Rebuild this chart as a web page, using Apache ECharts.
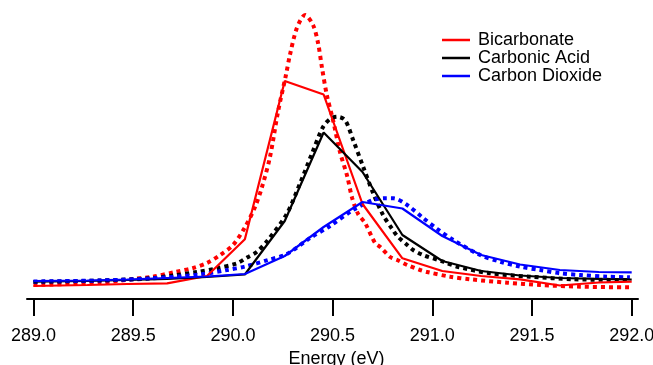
<!DOCTYPE html>
<html>
<head>
<meta charset="utf-8">
<script src="https://cdn.jsdelivr.net/npm/echarts@6/dist/echarts.min.js"></script>
<style>html,body{margin:0;padding:0;background:#fff}#c{width:653px;height:365px}</style>
</head>
<body>
<div id="c"></div>
<script>
// Measured spectra (solid lines)
const energyMeas = [289.0, 289.27, 289.47, 289.67, 289.87, 290.06, 290.26, 290.455, 290.65, 290.85, 291.05, 291.245, 291.44, 291.64, 291.835, 292.0];
const bicarbonateMeas = [0.13, 0.14, 0.15, 0.157, 0.23, 0.597, 2.18, 2.045, 0.95, 0.407, 0.28, 0.23, 0.197, 0.135, 0.165, 0.173];
const carbonicMeas = [0.173, 0.18, 0.19, 0.2, 0.22, 0.245, 0.78, 1.665, 1.27, 0.64, 0.38, 0.28, 0.235, 0.21, 0.2, 0.195];
const co2Meas = [0.18, 0.185, 0.195, 0.21, 0.225, 0.25, 0.43, 0.72, 0.97, 0.905, 0.63, 0.44, 0.345, 0.29, 0.27, 0.267];

// Fitted / computed curves (dotted lines)
const bicarbFitE = [289.0, 289.334, 289.499, 289.60, 289.71, 289.80, 289.87, 289.936, 290.001, 290.061, 290.111, 290.146, 290.186, 290.226, 290.266, 290.286, 290.321, 290.362, 290.402, 290.427, 290.447, 290.471, 290.502, 290.537, 290.573, 290.598, 290.628, 290.663, 290.713, 290.739, 290.789, 290.824, 290.874, 290.939, 290.974, 291.09, 291.19, 291.376, 291.541, 291.742, 291.991];
const bicarbFitI = [0.14, 0.163, 0.20, 0.223, 0.27, 0.31, 0.36, 0.44, 0.54, 0.72, 0.92, 1.12, 1.42, 1.87, 2.24, 2.44, 2.71, 2.84, 2.74, 2.56, 2.31, 2.04, 1.79, 1.47, 1.23, 1.01, 0.85, 0.76, 0.56, 0.52, 0.42, 0.39, 0.34, 0.29, 0.27, 0.223, 0.197, 0.163, 0.14, 0.123, 0.117];

const carbonicFitE = [289.0, 289.334, 289.585, 289.70, 289.82, 289.92, 290.021, 290.071, 290.121, 290.172, 290.267, 290.337, 290.397, 290.452, 290.487, 290.522, 290.562, 290.603, 290.653, 290.703, 290.753, 290.799, 290.824, 290.874, 290.904, 290.954, 291.055, 291.125, 291.29, 291.491, 291.707, 291.991];
const carbonicFitI = [0.17, 0.185, 0.207, 0.235, 0.27, 0.307, 0.357, 0.415, 0.473, 0.58, 0.84, 1.157, 1.457, 1.72, 1.80, 1.823, 1.79, 1.59, 1.323, 1.06, 0.84, 0.70, 0.63, 0.54, 0.49, 0.44, 0.373, 0.323, 0.257, 0.223, 0.197, 0.19];

const co2FitE = [289.0, 289.334, 289.585, 289.835, 289.971, 290.061, 290.176, 290.271, 290.387, 290.487, 290.603, 290.703, 290.765, 290.805, 290.874, 290.954, 291.025, 291.105, 291.24, 291.341, 291.441, 291.541, 291.642, 291.742, 291.876, 291.991];
const co2FitI = [0.175, 0.185, 0.205, 0.245, 0.29, 0.325, 0.39, 0.45, 0.61, 0.73, 0.89, 0.99, 1.007, 1.007, 0.94, 0.81, 0.70, 0.59, 0.44, 0.373, 0.323, 0.29, 0.257, 0.24, 0.223, 0.217];

const tickValues = [289.0, 289.5, 290.0, 290.5, 291.0, 291.5, 292.0];
const seriesNames = ['Bicarbonate', 'Carbonic Acid', 'Carbon Dioxide'];
const seriesColors = ['#ff0000', '#000000', '#0000ff'];

const zip = (xs, ys) => xs.map((x, i) => [x, ys[i]]);
const FONT = 'Liberation Sans, Arial, Helvetica, sans-serif';

const fits = [[bicarbFitE, bicarbFitI], [carbonicFitE, carbonicFitI], [co2FitE, co2FitI]];
const meas = [bicarbonateMeas, carbonicMeas, co2Meas];

const series = [];
fits.forEach((f, i) => {
  series.push({
    name: seriesNames[i] + ' fit', type: 'line', data: zip(f[0], f[1]),
    symbol: 'none', smooth: 0.3, silent: true,
    lineStyle: { color: seriesColors[i], width: 4, type: [4, 4], cap: 'butt' },
    itemStyle: { color: seriesColors[i] }, z: 2
  });
});
meas.forEach((m, i) => {
  series.push({
    name: seriesNames[i], type: 'line', data: zip(energyMeas, m),
    symbol: 'none', silent: true,
    lineStyle: { color: seriesColors[i], width: 2.2 },
    itemStyle: { color: seriesColors[i] }, z: 3
  });
});

const chart = echarts.init(document.getElementById('c'), null, { renderer: 'canvas' });
chart.setOption({
  animation: false,
  backgroundColor: '#ffffff',
  grid: { left: 27, right: 15, top: 9, bottom: 66, containLabel: false, outerBoundsMode: 'none' },
  legend: {
    data: seriesNames, orient: 'vertical', left: 437, top: 26,
    itemWidth: 28, itemHeight: 2.5, itemGap: 0, icon: 'rect',
    textStyle: { fontFamily: FONT, fontSize: 18, color: '#000', lineHeight: 18, padding: [0, 0, 0, 3] }
  },
  xAxis: {
    type: 'value', min: 288.9674, max: 292.0316,
    name: 'Energy (eV)', nameLocation: 'middle', nameGap: 47,
    nameTextStyle: { fontFamily: FONT, fontSize: 18, color: '#000', padding: [0, 0, 0, 8] },
    axisLine: { show: true, lineStyle: { color: '#000', width: 2 } },
    axisTick: { show: true, inside: false, length: 17, customValues: tickValues, lineStyle: { color: '#000', width: 2 } },
    axisLabel: { show: true, margin: 28, customValues: tickValues, fontFamily: FONT, fontSize: 18, color: '#000',
      formatter: v => v.toFixed(1) },
    splitLine: { show: false }
  },
  yAxis: { type: 'value', min: 0, max: 2.9, show: false },
  series: series
});
</script>
</body>
</html>
